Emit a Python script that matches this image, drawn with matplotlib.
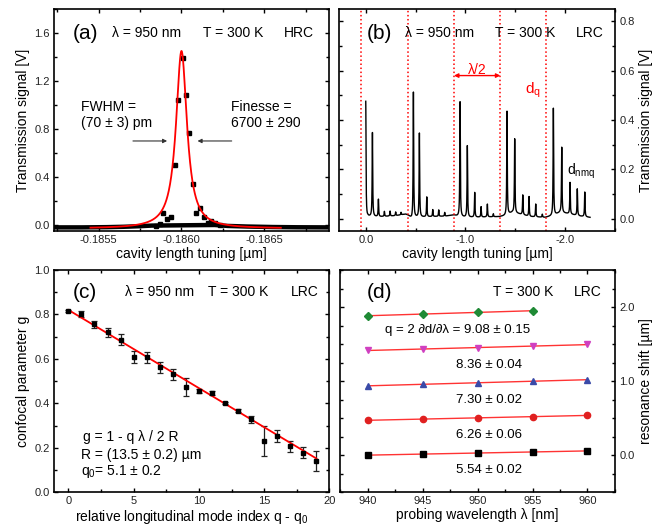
import numpy as np
import matplotlib.pyplot as plt
from matplotlib.ticker import MultipleLocator, FormatStrFormatter

plt.rcParams['font.family'] = ['Liberation Sans', 'DejaVu Sans']
plt.rcParams['mathtext.fontset'] = 'custom'
plt.rcParams['mathtext.rm'] = 'Liberation Sans'
plt.rcParams['mathtext.it'] = 'Liberation Sans:italic'
plt.rcParams['axes.unicode_minus'] = False
plt.rcParams['axes.linewidth'] = 1.2

# ---- panel (a): single HRC resonance ----
a_x = [-0.185844, -0.18587, -0.185888, -0.18591, -0.185936, -0.185958, -0.185978,
       -0.18601, -0.186026, -0.186046, -0.18607, -0.18609, -0.186112, -0.186134,
       -0.186158, -0.18618, -0.186204, -0.186234]
a_y = [-0.005, 0.008, 0.097, 0.05, 0.069, 0.50, 1.043, 1.393, 1.081, 0.764, 0.345,
       0.102, 0.138, 0.063, 0.014, 0.036, 0.014, 0.0]
a_base_x = [-0.18523, -0.18540, -0.18555, -0.18565, -0.18575, -0.18582, -0.18620,
            -0.18628, -0.18640, -0.18655, -0.18670, -0.18689]
a_base_y = [-0.020, -0.020, -0.018, -0.015, -0.010, -0.005, 0.0, -0.008, -0.013,
            -0.017, -0.019, -0.020]
a_fit_center = -0.18600
a_fit_fwhm = 0.00008
a_fit_amp = 1.48
a_fit_offset = -0.03
a_fit_range = (-0.18545, -0.18660)

# ---- panel (b): LRC transmission scan ----
b_peak_x = [0.0, -0.067, -0.127, -0.187, -0.244, -0.30, -0.354,
            -0.478, -0.538, -0.612, -0.672, -0.732, -0.792,
            -0.946, -1.019, -1.093, -1.157, -1.22, -1.28,
            -1.417, -1.494, -1.575, -1.638, -1.705, -1.771,
            -1.882, -1.966, -2.049, -2.122, -2.197]
b_peak_h = [0.475, 0.34, 0.07, 0.02, 0.02, 0.015, 0.01,
            0.51, 0.34, 0.08, 0.028, 0.026, 0.015,
            0.465, 0.29, 0.10, 0.042, 0.052, 0.012,
            0.42, 0.30, 0.08, 0.08, 0.052, 0.012,
            0.435, 0.265, 0.128, 0.108, 0.10]
b_base_x = [0.0, -0.02, -0.15, -0.3, -0.4, -0.43, -0.46, -0.5, -0.65, -0.8, -0.88,
            -0.92, -1.0, -1.15, -1.34, -1.4, -1.47, -1.53, -1.65, -1.8, -1.88,
            -1.95, -2.03, -2.15, -2.25]
b_base_y = [0.0, 0.008, 0.008, 0.012, 0.018, 0.012, 0.0, 0.005, 0.008, 0.01, 0.015,
            0.01, 0.005, 0.006, 0.008, 0.012, 0.025, 0.02, 0.008, 0.005, 0.012,
            0.025, 0.02, 0.01, 0.005]
b_fsr_lines = [0.05, -0.42, -0.885, -1.35, -1.81]

# ---- panel (c): confocal parameter ----
c_q = [0, 1, 2, 3, 4, 5, 6, 7, 8, 9, 10, 11, 12, 13, 14, 15, 16, 17, 18, 19]
c_g = [0.816, 0.802, 0.756, 0.72, 0.687, 0.609, 0.607, 0.562, 0.532, 0.475,
       0.456, 0.448, 0.403, 0.367, 0.328, 0.231, 0.253, 0.208, 0.178, 0.14]
c_err = [0.005, 0.012, 0.015, 0.02, 0.025, 0.025, 0.025, 0.025, 0.025, 0.041,
         0.01, 0.01, 0.005, 0.006, 0.015, 0.067, 0.026, 0.025, 0.025, 0.045]
c_R = 13.5      # um
c_q0 = 5.1
c_lam = 0.95    # um

# ---- panel (d): resonance shift vs wavelength ----
d_wl = [940, 945, 950, 955, 960]
d_black = [0.0, 0.018, 0.031, 0.045, 0.058]
d_red = [0.472, 0.49, 0.503, 0.521, 0.539]
d_blue = [0.939, 0.957, 0.975, 1.002, 1.02]
d_magenta = [1.416, 1.434, 1.452, 1.47, 1.497]
d_green = [1.883, 1.906, 1.928, 1.951]
d_labels = ['5.54 ± 0.02', '6.26 ± 0.06', '7.30 ± 0.02', '8.36 ± 0.04',
            'q = 2 ∂d/∂λ = 9.08 ± 0.15']


def style_axis(ax):
    ax.tick_params(which='both', direction='in', top=True, right=True, labelsize=8,
                   width=1.0, pad=3, labelcolor='#222222')
    ax.tick_params(which='major', length=3)
    ax.tick_params(which='minor', length=2.5)


fig = plt.figure(figsize=(6.67, 5.27), dpi=100)
ax_a = fig.add_axes([0.081, 0.5617, 0.412, 0.4213])
ax_b = fig.add_axes([0.508, 0.5617, 0.414, 0.4213])
ax_c = fig.add_axes([0.081, 0.0658, 0.413, 0.4218])
ax_d = fig.add_axes([0.510, 0.0658, 0.412, 0.4218])

# (a)
ax_a.plot(a_base_x, a_base_y, '-', color='black', lw=3.2, solid_capstyle='butt')
ax_a.plot(a_x, a_y, 's', color='black', ms=3.4)
xf = np.linspace(a_fit_range[0], a_fit_range[1], 800)
hw = a_fit_fwhm / 2
yf = a_fit_offset + a_fit_amp * hw**2 / ((xf - a_fit_center)**2 + hw**2)
ax_a.plot(xf, yf, color='red', lw=1.3)
ax_a.annotate('', xy=(-0.18593, 0.70), xytext=(-0.18569, 0.70),
              arrowprops=dict(arrowstyle='-|>', color='#333333', lw=0.8, mutation_scale=6))
ax_a.annotate('', xy=(-0.18608, 0.70), xytext=(-0.18632, 0.70),
              arrowprops=dict(arrowstyle='-|>', color='#333333', lw=0.8, mutation_scale=6))
ax_a.text(-0.185393, 0.979, 'FWHM =', fontsize=10, va='center', ha='left')
ax_a.text(-0.185393, 0.847, '(70 ± 3) pm', fontsize=10, va='center', ha='left')
ax_a.text(-0.18630, 0.979, 'Finesse =', fontsize=10, va='center', ha='left')
ax_a.text(-0.18630, 0.847, '6700 ± 290', fontsize=10, va='center', ha='left')
ax_a.set_xlim(-0.18523, -0.18689)
ax_a.set_ylim(-0.05, 1.8)
ax_a.xaxis.set_major_locator(MultipleLocator(0.0005))
ax_a.xaxis.set_minor_locator(MultipleLocator(0.00025))
ax_a.xaxis.set_major_formatter(FormatStrFormatter('%.4f'))
ax_a.yaxis.set_major_locator(MultipleLocator(0.4))
ax_a.yaxis.set_minor_locator(MultipleLocator(0.2))
ax_a.yaxis.set_major_formatter(FormatStrFormatter('%.1f'))
ax_a.set_xlabel('cavity length tuning [µm]', fontsize=10, labelpad=1)
ax_a.set_ylabel('Transmission signal [V]', fontsize=10, labelpad=3)
style_axis(ax_a)
for tx, s in [(0.113, '(a)'), (0.338, 'λ = 950 nm'), (0.653, 'T = 300 K'), (0.891, 'HRC')]:
    ax_a.text(tx, 0.89, s, transform=ax_a.transAxes, ha='center', va='center',
              fontsize=15 if s.startswith('(') else 10)

# (b)
grid = np.linspace(0.0, -2.25, 6000)
xb = np.sort(np.concatenate([grid, b_peak_x]))[::-1]
yb = np.interp(xb, b_base_x[::-1], b_base_y[::-1])
gam = 0.003
for px, ph in zip(b_peak_x, b_peak_h):
    yb = yb + ph * gam**2 / ((xb - px)**2 + gam**2)
ax_b.plot(xb, yb, color='black', lw=1.0)
for lx in b_fsr_lines:
    ax_b.axvline(lx, color='red', ls=':', lw=1.1)
ax_b.annotate('', xy=(b_fsr_lines[2], 0.58), xytext=(b_fsr_lines[3], 0.58),
              arrowprops=dict(arrowstyle='<|-|>', color='red', lw=1.0, mutation_scale=6,
                              shrinkA=0, shrinkB=0))
ax_b.text((b_fsr_lines[2] + b_fsr_lines[3]) / 2, 0.575, 'λ/2', color='red', fontsize=10,
          ha='center', va='bottom')
ax_b.text(-1.60, 0.52, r'd$_\mathregular{q}$', color='red', fontsize=11, ha='left', va='center')
ax_b.text(-2.02, 0.19, r'd$_\mathregular{nmq}$', color='black', fontsize=10, ha='left', va='center')
ax_b.set_xlim(0.27, -2.5)
ax_b.set_ylim(-0.05, 0.85)
ax_b.xaxis.set_major_locator(MultipleLocator(1.0))
ax_b.xaxis.set_minor_locator(MultipleLocator(0.5))
ax_b.xaxis.set_major_formatter(FormatStrFormatter('%.1f'))
ax_b.yaxis.set_major_locator(MultipleLocator(0.2))
ax_b.yaxis.set_minor_locator(MultipleLocator(0.1))
ax_b.yaxis.set_major_formatter(FormatStrFormatter('%.1f'))
ax_b.set_xlabel('cavity length tuning [µm]', fontsize=10, labelpad=1)
ax_b.yaxis.set_label_position('right')
ax_b.set_ylabel('Transmission signal [V]', fontsize=10, labelpad=3)
style_axis(ax_b)
ax_b.tick_params(labelleft=False, labelright=True)
for tx, s in [(0.146, '(b)'), (0.366, 'λ = 950 nm'), (0.675, 'T = 300 K'), (0.909, 'LRC')]:
    ax_b.text(tx, 0.89, s, transform=ax_b.transAxes, ha='center', va='center',
              fontsize=15 if s.startswith('(') else 10)

# (c)
ax_c.errorbar(c_q, c_g, yerr=c_err, fmt='s', color='black', ms=2.6, ecolor='#222222',
              elinewidth=0.9, capsize=2.2, capthick=0.9)
qf = np.array([c_q[0], c_q[-1]])
gf = 1 - (qf + c_q0) * c_lam / (2 * c_R)   # g = 1 - q lambda / 2R
ax_c.plot(qf, gf, color='red', lw=1.3)
ax_c.text(1.1, 0.25, 'g = 1 - q λ / 2 R', fontsize=10, ha='left', va='center')
ax_c.text(0.98, 0.168, 'R = (13.5 ± 0.2) µm', fontsize=10, ha='left', va='center')
ax_c.text(0.98, 0.093, r'q$_\mathregular{0}$= 5.1 ± 0.2', fontsize=10, ha='left', va='center')
ax_c.set_xlim(-1.1, 20)
ax_c.set_ylim(0, 1.0)
ax_c.xaxis.set_major_locator(MultipleLocator(5))
ax_c.xaxis.set_minor_locator(MultipleLocator(2.5))
ax_c.yaxis.set_major_locator(MultipleLocator(0.2))
ax_c.yaxis.set_minor_locator(MultipleLocator(0.1))
ax_c.yaxis.set_major_formatter(FormatStrFormatter('%.1f'))
ax_c.set_xlabel(r'relative longitudinal mode index q - q$_\mathregular{0}$', fontsize=10, labelpad=1)
ax_c.set_ylabel('confocal parameter g', fontsize=10, labelpad=3)
style_axis(ax_c)
for tx, s in [(0.113, '(c)'), (0.383, 'λ = 950 nm'), (0.670, 'T = 300 K'), (0.909, 'LRC')]:
    ax_c.text(tx, 0.9, s, transform=ax_c.transAxes, ha='center', va='center',
              fontsize=15 if s.startswith('(') else 10)

# (d)
series = [(d_black, 's', 'black'), (d_red, 'o', '#e02020'), (d_blue, '^', '#3a4aa8'),
          (d_magenta, 'v', '#d040c0'), (d_green, 'D', '#1f8a35')]
for (vals, mk, col), lab in zip(series, d_labels):
    wl = d_wl[:len(vals)]
    k, b0 = np.polyfit(wl, vals, 1)   # linear fit per mode
    ax_d.plot([wl[0], wl[-1]], [k * wl[0] + b0, k * wl[-1] + b0], color='red', lw=1.0, alpha=0.8)
    ax_d.plot(wl, vals, mk, color=col, ms=4.5 if mk != 'D' else 4)
    lx = 948.2 if lab.startswith('q') else 951
    ax_d.text(lx, k * lx + b0 - 0.235, lab, fontsize=9.5, ha='center', va='center')
ax_d.set_xlim(937.5, 962.5)
ax_d.set_ylim(-0.5, 2.5)
ax_d.xaxis.set_major_locator(MultipleLocator(5))
ax_d.xaxis.set_minor_locator(MultipleLocator(2.5))
ax_d.yaxis.set_major_locator(MultipleLocator(1.0))
ax_d.yaxis.set_minor_locator(MultipleLocator(0.25))
ax_d.yaxis.set_major_formatter(FormatStrFormatter('%.1f'))
ax_d.set_xlabel('probing wavelength λ [nm]', fontsize=10, labelpad=1)
ax_d.yaxis.set_label_position('right')
ax_d.set_ylabel('resonance shift [µm]', fontsize=10, labelpad=3)
style_axis(ax_d)
ax_d.tick_params(labelleft=False, labelright=True)
for tx, s in [(0.142, '(d)'), (0.667, 'T = 300 K'), (0.9, 'LRC')]:
    ax_d.text(tx, 0.9, s, transform=ax_d.transAxes, ha='center', va='center',
              fontsize=15 if s.startswith('(') else 10)

fig.savefig('out.png', dpi=100)
